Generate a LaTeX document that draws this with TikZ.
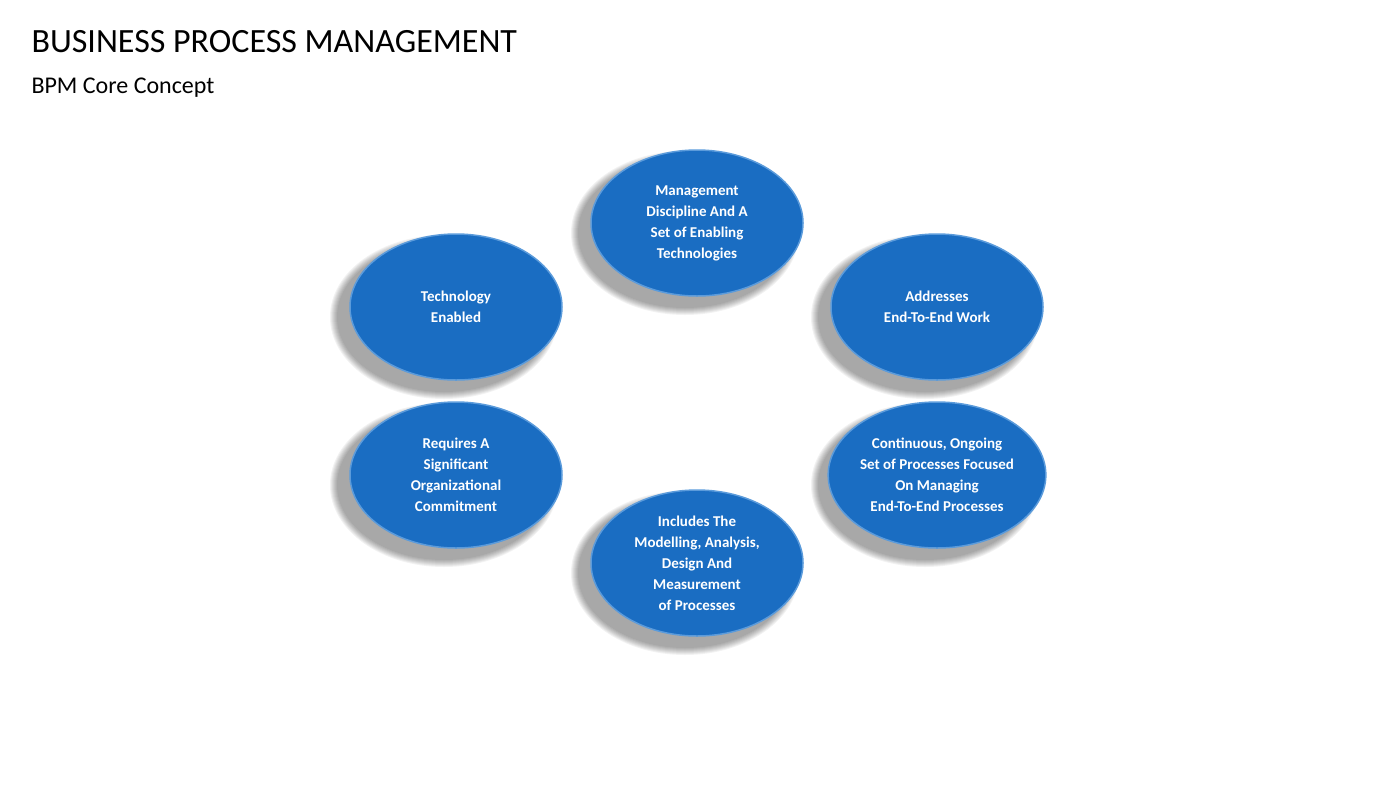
\documentclass[tikz,border=0pt]{standalone}
\usepackage{fontspec}
\setmainfont{Carlito}
\usetikzlibrary{shapes.geometric}
\definecolor{bpmblue}{HTML}{1A6DC2}
\definecolor{bpmrim}{HTML}{5B9BDB}
\tikzset{
  bubble/.style={ellipse, fill=bpmblue, draw=bpmrim, line width=1.5pt, minimum width=212pt, minimum height=146pt, inner sep=0pt, text=white, font=\bfseries\fontsize{15}{21}\selectfont, align=center},
  shade1/.style={fill=black, opacity=0.05, ellipse, minimum width=214pt, minimum height=150pt, inner sep=0pt}
}
\newcommand{\bpmbubble}[3]{%
  \foreach \k in {0,1,...,7}{
    \node[shade1, minimum width={214pt+2*\k pt}, minimum height={150pt+2*\k pt}] at ([xshift=-12pt,yshift=-10pt]#2) {};
  }
  \node[bubble] (#1) at (#2) {#3};
}
\begin{document}
\begin{tikzpicture}[x=1pt,y=-1pt]
\useasboundingbox (0,0) rectangle (1400,788);
\node[anchor=west, font=\fontsize{34}{40}\selectfont] (title) at (28,42) {BUSINESS PROCESS MANAGEMENT};
\node[anchor=west, font=\fontsize{24}{28}\selectfont] (sub) at (28,88) {BPM Core Concept};
\bpmbubble{top}{697,223}{Management\\Discipline And A\\Set of Enabling\\Technologies}
\bpmbubble{tl}{456,307}{Technology\\Enabled}
\bpmbubble{tr}{937,307}{Addresses\\End-To-End Work}
\bpmbubble{bl}{456,475}{Requires A\\Significant\\Organizational\\Commitment}
\bpmbubble{br}{937,475}{Continuous, Ongoing\\Set of Processes Focused\\On Managing\\End-To-End Processes}
\bpmbubble{bot}{697,563}{Includes The\\Modelling, Analysis,\\Design And\\Measurement\\of Processes}
\end{tikzpicture}
\end{document}
